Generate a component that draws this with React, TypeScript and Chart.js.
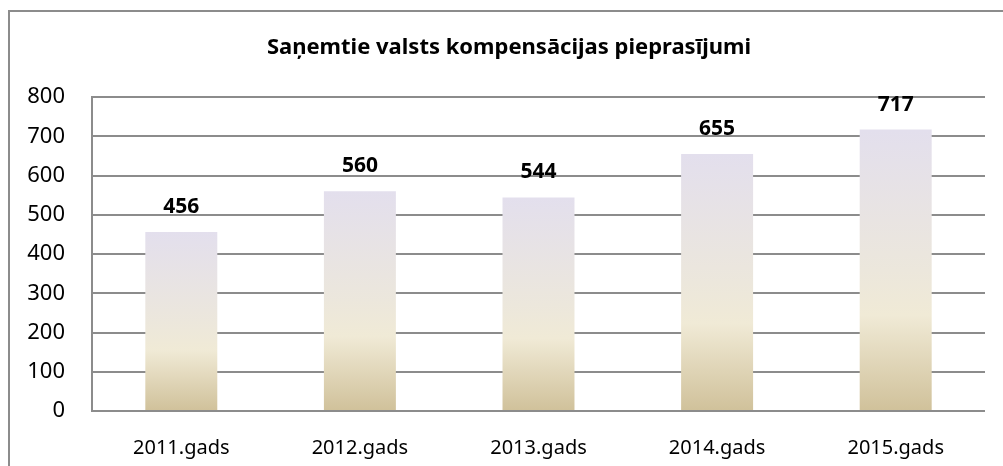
import React, { useEffect, useRef } from 'react';
import { Chart, registerables } from 'chart.js';

Chart.register(...registerables);

const categories = ['2011.gads', '2012.gads', '2013.gads', '2014.gads', '2015.gads'];
const values = [456, 560, 544, 655, 717];
const yMin = 0;
const yMax = 800;
const yStep = 100;
const chartTitle = 'Saņemtie valsts kompensācijas pieprasījumi';

const FONT = "'Noto Sans', sans-serif";

const dataLabels = {
  id: 'dataLabels',
  afterDatasetsDraw(chart: any) {
    const { ctx } = chart;
    const meta = chart.getDatasetMeta(0);
    ctx.save();
    ctx.font = `bold 21px ${FONT}`;
    ctx.fillStyle = '#000';
    ctx.textAlign = 'center';
    ctx.textBaseline = 'alphabetic';
    meta.data.forEach((bar: any, i: number) => {
      ctx.fillText(String(values[i]), bar.x, bar.y - 19);
    });
    ctx.restore();
  },
};

const titleDraw = {
  id: 'titleDraw',
  afterDraw(chart: any) {
    const { ctx } = chart;
    ctx.save();
    ctx.font = `bold 22px ${FONT}`;
    ctx.fillStyle = '#000';
    ctx.textAlign = 'center';
    ctx.textBaseline = 'alphabetic';
    ctx.fillText(chartTitle, 509, 54);
    ctx.restore();
  },
};

export default function App() {
  const ref = useRef<HTMLCanvasElement>(null);

  useEffect(() => {
    if (!ref.current) return;
    const chart = new Chart(ref.current, {
      type: 'bar',
      data: {
        labels: categories,
        datasets: [
          {
            data: values,
            backgroundColor: (c: any) => {
              const ch = c.chart;
              if (!ch.chartArea || c.type !== 'data') return '#e8e2d0';
              const y = ch.scales.y;
              const top = y.getPixelForValue(c.raw);
              const bottom = y.getPixelForValue(0);
              const g = ch.ctx.createLinearGradient(0, bottom, 0, top);
              g.addColorStop(0, '#d0c19a');
              g.addColorStop(0.34, '#f0ead6');
              g.addColorStop(0.5, '#ece7dc');
              g.addColorStop(1, '#e3dfed');
              return g;
            },
            borderWidth: 0,
            barPercentage: 0.403,
            categoryPercentage: 1,
          },
        ],
      },
      options: {
        animation: false,
        responsive: false,
        maintainAspectRatio: false,
        layout: { padding: { left: 0, right: 18, top: 97, bottom: 0 } },
        plugins: {
          legend: { display: false },
          tooltip: { enabled: false },
          title: { display: false },
        },
        scales: {
          x: {
            grid: { display: false },
            border: { display: false },
            ticks: {
              color: '#000',
              font: { family: FONT, size: 20 },
              padding: 17,
              maxRotation: 0,
            },
            afterFit: (s: any) => {
              s.height = 55;
            },
          },
          y: {
            min: yMin,
            max: yMax,
            grid: { color: '#8c8c8c', lineWidth: 2, drawTicks: false },
            border: { display: true, color: '#8c8c8c', width: 2 },
            ticks: {
              stepSize: yStep,
              color: '#000',
              font: { family: FONT, size: 22 },
              padding: 27,
            },
            afterFit: (s: any) => {
              s.width = 92;
            },
          },
        },
      },
      plugins: [dataLabels, titleDraw],
    });
    return () => chart.destroy();
  }, []);

  return (
    <div
      style={{
        position: 'fixed',
        left: 0,
        top: 0,
        width: 1003,
        height: 466,
        overflow: 'hidden',
        background: '#fff',
      }}
    >
      <div
        style={{
          position: 'absolute',
          left: 8,
          top: 10,
          width: 1200,
          height: 700,
          border: '2px solid #8c8c8c',
          boxSizing: 'border-box',
        }}
      />
      <canvas
        ref={ref}
        width={1003}
        height={466}
        style={{ position: 'absolute', left: 0, top: 0, width: 1003, height: 466 }}
      />
    </div>
  );
}
